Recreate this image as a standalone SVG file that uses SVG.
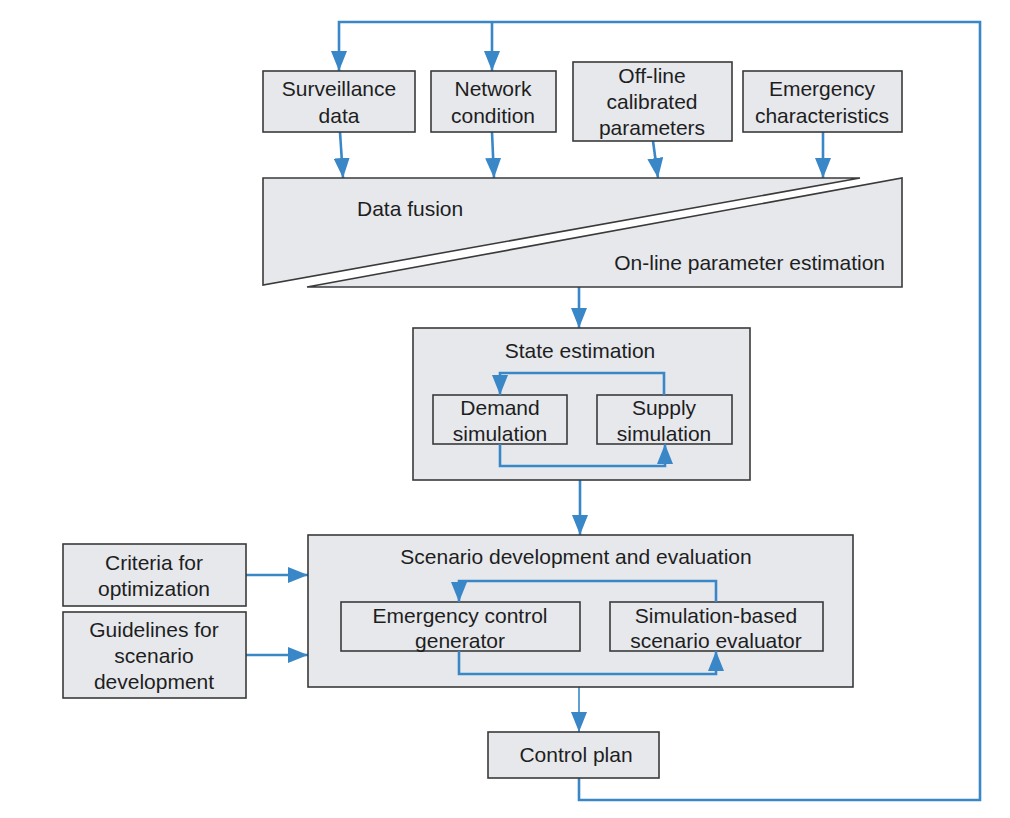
<svg xmlns="http://www.w3.org/2000/svg" width="1010" height="818" viewBox="0 0 1010 818">
<style>
.box{fill:#e6e8ec;stroke:#3a3a3a;stroke-width:1.6}
.t{font-family:"Liberation Sans",Arial,sans-serif;font-size:21px;fill:#1e1e1e;text-anchor:middle}
.c{fill:none;stroke:#3a87c8;stroke-width:2.6}
.thin{fill:none;stroke:#3a87c8;stroke-width:1.6}
</style>
<defs>
<marker id="ah" markerUnits="userSpaceOnUse" markerWidth="20" markerHeight="16" viewBox="0 0 20 16" refX="20" refY="8" orient="auto">
<path d="M0,0 L20,8 L0,16 Z" fill="#3a87c8"/>
</marker>
</defs>
<rect width="1010" height="818" fill="#fff"/>

<g id="connectors">
<path class="c" d="M579,778 V800 H980 V22 H339 V71" marker-end="url(#ah)"/>
<path class="c" d="M492,22 V71" marker-end="url(#ah)"/>
<path class="c" d="M340,132 L343,178" marker-end="url(#ah)"/>
<path class="c" d="M492,132 L494,178" marker-end="url(#ah)"/>
<path class="c" d="M653,141 L658,178" marker-end="url(#ah)"/>
<path class="c" d="M823,132 V178" marker-end="url(#ah)"/>
<path class="c" d="M579,287 V328" marker-end="url(#ah)"/>
<path class="c" d="M580,480 V535" marker-end="url(#ah)"/>
<path class="c" d="M246,575 H308" marker-end="url(#ah)"/>
<path class="c" d="M246,655 H308" marker-end="url(#ah)"/>
<path class="thin" d="M579,680 V732" marker-end="url(#ah)"/>
</g>

<g id="surveillance"><rect class="box" x="263" y="71" width="152" height="61"/>
<text class="t" x="339" y="96">Surveillance</text><text class="t" x="339" y="123">data</text></g>
<g id="network"><rect class="box" x="431" y="71" width="125" height="61"/>
<text class="t" x="493" y="96">Network</text><text class="t" x="493" y="123">condition</text></g>
<g id="offline"><rect class="box" x="573" y="62" width="159" height="79"/>
<text class="t" x="652" y="83">Off-line</text><text class="t" x="652" y="109">calibrated</text><text class="t" x="652" y="135">parameters</text></g>
<g id="emergency"><rect class="box" x="743" y="71" width="159" height="61"/>
<text class="t" x="822" y="96">Emergency</text><text class="t" x="822" y="123">characteristics</text></g>

<g id="datafusion"><path class="box" d="M263,178 H860 L263,285 Z"/>
<text class="t" x="357" y="216" style="text-anchor:start">Data fusion</text></g>
<g id="online"><path class="box" d="M902,178 V287 H307 Z"/>
<text class="t" x="885" y="270" style="text-anchor:end">On-line parameter estimation</text></g>

<g id="state"><rect class="box" x="413" y="328" width="337" height="152"/>
<text class="t" x="580" y="358">State estimation</text></g>
<g id="demand"><rect class="box" x="433" y="395" width="134" height="49"/>
<text class="t" x="500" y="415">Demand</text><text class="t" x="500" y="441">simulation</text></g>
<g id="supply"><rect class="box" x="597" y="395" width="135" height="49"/>
<text class="t" x="664" y="415">Supply</text><text class="t" x="664" y="441">simulation</text></g>
<g id="state-loop">
<path class="c" d="M664,395 V373 H500 V395" marker-end="url(#ah)"/>
<path class="c" d="M500,444 V466 H665 V444" marker-end="url(#ah)"/>
</g>

<g id="criteria"><rect class="box" x="63" y="544" width="183" height="62"/>
<text class="t" x="154" y="570">Criteria for</text><text class="t" x="154" y="596">optimization</text></g>
<g id="guidelines"><rect class="box" x="63" y="612" width="183" height="86"/>
<text class="t" x="154" y="637">Guidelines for</text><text class="t" x="154" y="663">scenario</text><text class="t" x="154" y="689">development</text></g>

<g id="scenario"><rect class="box" x="308" y="535" width="545" height="152"/>
<text class="t" x="576" y="564">Scenario development and evaluation</text></g>
<g id="generator"><rect class="box" x="341" y="602" width="239" height="49"/>
<text class="t" x="460" y="623">Emergency control</text><text class="t" x="460" y="648">generator</text></g>
<g id="evaluator"><rect class="box" x="610" y="602" width="213" height="49"/>
<text class="t" x="716" y="623">Simulation-based</text><text class="t" x="716" y="648">scenario evaluator</text></g>
<g id="scenario-loop">
<path class="c" d="M716,602 V581 H459 V602" marker-end="url(#ah)"/>
<path class="c" d="M459,651 V674 H716 V651" marker-end="url(#ah)"/>
</g>

<g id="controlplan"><rect class="box" x="488" y="732" width="171" height="46"/>
<text class="t" x="576" y="762">Control plan</text></g>
</svg>
